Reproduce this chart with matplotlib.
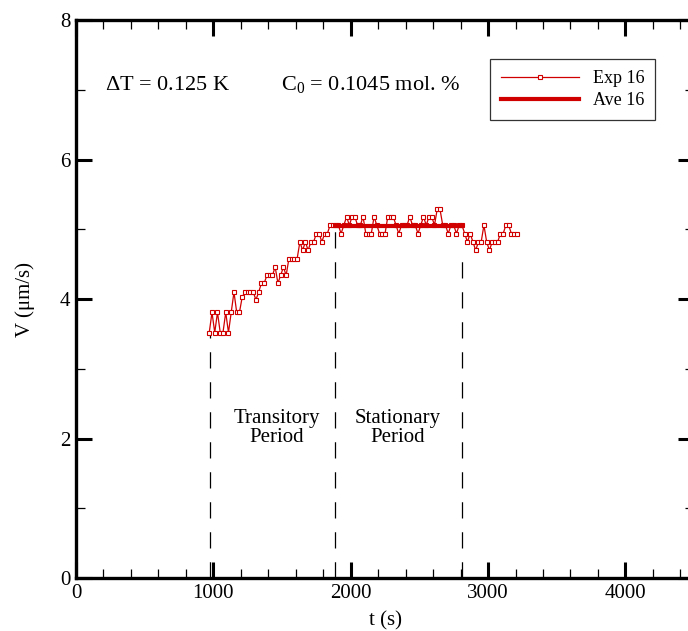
import matplotlib
matplotlib.use("Agg")
import matplotlib.pyplot as plt
from matplotlib.ticker import MultipleLocator

plt.rcParams['font.family'] = ['Liberation Serif', 'DejaVu Serif']
plt.rcParams['mathtext.fontset'] = 'custom'
plt.rcParams['mathtext.rm'] = 'Liberation Serif'
plt.rcParams['mathtext.it'] = 'Liberation Serif:italic'

# ---------------------------------------------------------
# data (Exp 16)
# ---------------------------------------------------------
exp_t = [970, 990, 1010, 1030, 1050, 1070, 1090, 1110, 1130, 1150,
         1170, 1190, 1210, 1230, 1250, 1270, 1290, 1310, 1330, 1350,
         1370, 1390, 1410, 1430, 1450, 1470, 1490, 1510, 1530, 1550,
         1570, 1590, 1610, 1630, 1650, 1670, 1690, 1710, 1730, 1750,
         1770, 1790, 1810, 1830, 1850, 1870, 1890, 1910, 1930, 1950,
         1970, 1990, 2010, 2030, 2050, 2070, 2090, 2110, 2130, 2150,
         2170, 2190, 2210, 2230, 2250, 2270, 2290, 2310, 2330, 2350,
         2370, 2390, 2410, 2430, 2450, 2470, 2490, 2510, 2530, 2550,
         2570, 2590, 2610, 2630, 2650, 2670, 2690, 2710, 2730, 2750,
         2770, 2790, 2810, 2830, 2850, 2870, 2890, 2910, 2930, 2950,
         2970, 2990, 3010, 3030, 3050, 3070, 3090, 3110, 3130, 3150,
         3170, 3190, 3210]
exp_v = [3.52, 3.81, 3.52, 3.81, 3.52, 3.52, 3.81, 3.52, 3.81, 4.10,
         3.81, 3.81, 4.03, 4.10, 4.10, 4.10, 4.10, 3.99, 4.10, 4.23,
         4.23, 4.34, 4.34, 4.34, 4.46, 4.23, 4.34, 4.46, 4.34, 4.58,
         4.58, 4.58, 4.58, 4.82, 4.70, 4.82, 4.70, 4.82, 4.82, 4.94,
         4.94, 4.82, 4.94, 4.94, 5.06, 5.06, 5.06, 5.06, 4.94, 5.06,
         5.18, 5.06, 5.18, 5.18, 5.06, 5.06, 5.18, 4.94, 4.94, 4.94,
         5.18, 5.06, 4.94, 4.94, 4.94, 5.18, 5.18, 5.18, 5.06, 4.94,
         5.06, 5.06, 5.06, 5.18, 5.06, 5.06, 4.94, 5.06, 5.18, 5.06,
         5.18, 5.18, 5.06, 5.29, 5.29, 5.06, 5.06, 4.94, 5.06, 5.06,
         4.94, 5.06, 5.06, 4.94, 4.82, 4.94, 4.82, 4.70, 4.82, 4.82,
         5.06, 4.82, 4.70, 4.82, 4.82, 4.82, 4.94, 4.94, 5.06, 5.06,
         4.94, 4.94, 4.94]

# stationary average (Ave 16)
ave_t = [1885, 2810]
ave_v = [5.05, 5.05]

# period boundaries: (time, top of dashed line)
bounds_t = [975, 1885, 2810]
bounds_top = [3.48, 4.98, 4.72]

red = '#d00000'

fig = plt.figure(figsize=(6.88, 6.31), dpi=100)
ax = fig.add_axes([0.1105, 0.084, 0.8983, 0.884])

for t, top in zip(bounds_t, bounds_top):
    ax.plot([t, t], [0, top], color='black', lw=0.9, dashes=(13, 11))

ax.plot(exp_t, exp_v, color=red, lw=0.9, marker='s', ms=3.0,
        mfc='white', mec=red, mew=0.8, label='Exp 16', zorder=3)
ax.plot(ave_t, ave_v, color=red, lw=3, label='Ave 16', zorder=4)

ax.text(211, 7.0, r'$\Delta$T = 0.125 K', fontsize=16, va='baseline')
ax.text(2797, 7.0, r'C$_0$ = 0.1045 mol. %', fontsize=16, va='baseline',
        ha='right')
ax.text(1460, 2.15, 'Transitory\nPeriod', fontsize=15, ha='center', va='center',
        linespacing=1.0)
ax.text(2345, 2.15, 'Stationary\nPeriod', fontsize=15, ha='center', va='center',
        linespacing=1.0)

ax.set_xlim(0, 4500)
ax.set_ylim(0, 8)
ax.xaxis.set_major_locator(MultipleLocator(1000))
ax.xaxis.set_minor_locator(MultipleLocator(200))
ax.yaxis.set_major_locator(MultipleLocator(2))
ax.yaxis.set_minor_locator(MultipleLocator(1))
ax.tick_params(which='both', direction='in', top=True, right=True, labelsize=15)
ax.tick_params(which='major', length=11.5, width=2.2, pad=4)
ax.tick_params(which='minor', length=6.5, width=0.9)
for s in ax.spines.values():
    s.set_linewidth(2.4)

ax.set_xlabel('t (s)', fontsize=15, labelpad=6)
ax.set_ylabel('V (μm/s)', fontsize=15, labelpad=18)

leg = ax.legend(loc='upper left', bbox_to_anchor=(0.67, 0.93), fontsize=13,
                frameon=True, fancybox=False, edgecolor='black',
                handlelength=4.3, borderpad=0.6, labelspacing=0.3,
                handletextpad=0.8, borderaxespad=0)
leg.get_frame().set_linewidth(0.9)

fig.savefig('out.png', dpi=100)
